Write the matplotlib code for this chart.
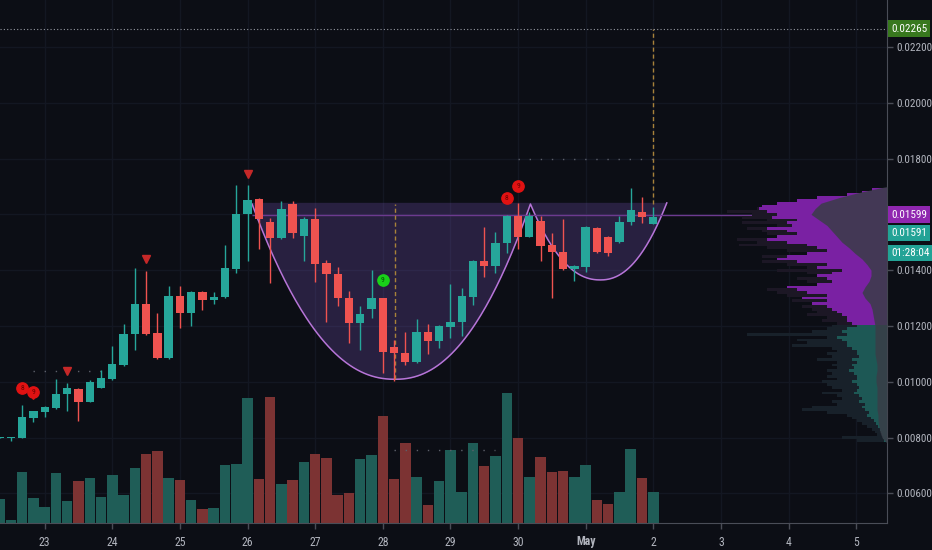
import numpy as np
import pandas as pd
import matplotlib
matplotlib.use("Agg")
import matplotlib.pyplot as plt
from matplotlib import transforms

plt.rcParams['font.family'] = ['DejaVu Sans Condensed', 'Liberation Sans Narrow',
                               'Roboto Condensed', 'Liberation Sans', 'DejaVu Sans']

# ---- data: 4h candles, first candle 22 Apr 08:00 ----
start = "2019-04-22 08:00"
opens = [0.00799, 0.00799, 0.00799, 0.00870, 0.00892, 0.00906, 0.00956, 0.00974, 0.00928, 0.00978,
         0.01010, 0.01060, 0.01171, 0.01279, 0.01175, 0.01085, 0.01308, 0.01247, 0.01322, 0.01293,
         0.01304, 0.01404, 0.01601, 0.01655, 0.01573, 0.01515, 0.01637, 0.01523, 0.01584, 0.01426,
         0.01386, 0.01300, 0.01211, 0.01261, 0.01300, 0.01125, 0.01103, 0.01071, 0.01179, 0.01146,
         0.01196, 0.01214, 0.01304, 0.01433, 0.01415, 0.01498, 0.01594, 0.01519, 0.01576, 0.01490,
         0.01465, 0.01404, 0.01412, 0.01551, 0.01519, 0.01501, 0.01573, 0.01609, 0.01566]
highs = [0.00801, 0.00801, 0.00917, 0.00897, 0.00912, 0.01010, 0.00996, 0.00976, 0.01007, 0.01042,
         0.01128, 0.01207, 0.01408, 0.01397, 0.01247, 0.01343, 0.01343, 0.01324, 0.01324, 0.01322,
         0.01490, 0.01705, 0.01705, 0.01657, 0.01587, 0.01648, 0.01648, 0.01591, 0.01623, 0.01437,
         0.01412, 0.01326, 0.01272, 0.01401, 0.01302, 0.01150, 0.01179, 0.01225, 0.01207, 0.01202,
         0.01351, 0.01336, 0.01435, 0.01555, 0.01537, 0.01596, 0.01641, 0.01609, 0.01594, 0.01533,
         0.01584, 0.01417, 0.01557, 0.01553, 0.01521, 0.01594, 0.01695, 0.01662, 0.01627]
lows = [0.00797, 0.00788, 0.00797, 0.00856, 0.00874, 0.00904, 0.00895, 0.00860, 0.00926, 0.00976,
        0.01008, 0.01058, 0.01114, 0.01169, 0.01082, 0.01083, 0.01193, 0.01200, 0.01257, 0.01279,
        0.01302, 0.01390, 0.01433, 0.01476, 0.01354, 0.01513, 0.01515, 0.01433, 0.01358, 0.01214,
        0.01272, 0.01139, 0.01114, 0.01229, 0.01032, 0.01003, 0.01060, 0.01069, 0.01100, 0.01121,
        0.01157, 0.01164, 0.01275, 0.01376, 0.01390, 0.01462, 0.01476, 0.01517, 0.01433, 0.01300,
        0.01402, 0.01361, 0.01394, 0.01462, 0.01451, 0.01499, 0.01562, 0.01569, 0.01564]
closes = [0.00800, 0.00800, 0.00874, 0.00895, 0.00910, 0.00956, 0.00978, 0.00928, 0.00999, 0.01014,
          0.01064, 0.01171, 0.01279, 0.01171, 0.01085, 0.01308, 0.01247, 0.01322, 0.01293, 0.01304,
          0.01408, 0.01601, 0.01652, 0.01584, 0.01515, 0.01619, 0.01533, 0.01584, 0.01422, 0.01386,
          0.01300, 0.01211, 0.01243, 0.01300, 0.01107, 0.01103, 0.01071, 0.01179, 0.01146, 0.01200,
          0.01214, 0.01308, 0.01433, 0.01415, 0.01498, 0.01594, 0.01519, 0.01594, 0.01487, 0.01465,
          0.01404, 0.01415, 0.01555, 0.01465, 0.01462, 0.01573, 0.01616, 0.01591, 0.01591]
volumes = [24, 3, 51, 25, 16, 50, 22, 42, 45, 26, 48, 28, 55, 69, 72, 45, 43, 23, 14, 15,
           58, 59, 125, 44, 126, 39, 43, 61, 69, 65, 28, 30, 64, 68, 107, 44, 80, 46, 18, 42,
           73, 31, 80, 57, 67, 130, 85, 46, 66, 51, 52, 46, 58, 23, 19, 31, 74, 45, 31]

# cup & handle drawing anchors (candle index, price)
cup_left = (22.4, 0.01637)
cup_low = (35.1, 0.01009)
cup_peak = (47.1, 0.01637)
handle_low = (53.3, 0.01365)
handle_right = (59.2, 0.01641)
target = cup_left[1] + (cup_left[1] - cup_low[1])
poc_price = 0.01599
last_price = closes[-1]
countdown = "01:28:04"

# TD sequential marks
td_red = [(2, 0.00978, "8"), (3, 0.00963, "9"), (45, 0.01659, "8"), (46, 0.01702, "9")]
td_green = [(34, 0.01365, "9")]
td_tri = [(6, 0.01039), (13, 0.01440), (22, 0.01745)]
td_lines = [(3, 9, 0.01039), (46, 58, 0.01800)]
vol_dots = (35, 44, 73)

# visible range volume profile, rows of 0.0001
vp_price = np.round(np.arange(0.0079, 0.01695, 0.0001), 4)
vp_total = [30, 45, 10, 12, 15, 20, 25, 30, 35, 40, 60, 85, 75, 50, 55, 45, 50, 65, 45, 55,
            60, 65, 50, 60, 55, 60, 50, 55, 50, 70, 55, 60, 50, 55, 95, 80, 90, 60, 140, 75,
            60, 55, 50, 65, 60, 80, 70, 75, 85, 70, 95, 80, 100, 110, 120, 100, 65, 80, 90, 70,
            80, 110, 80, 100, 125, 105, 125, 80, 100, 120, 148, 130, 150, 110, 120, 125, 140, 110, 145, 120,
            145, 135, 160, 130, 115, 95, 75, 45, 28, 18, 6]
vp_value = [3, 4, 5, 6, 7, 9, 11, 13, 16, 20, 18, 22, 25, 22, 28, 25, 28, 33, 30, 28,
            30, 35, 30, 30, 33, 38, 33, 35, 30, 35, 28, 30, 30, 35, 40, 40, 45, 50, 40, 45,
            40, 30, 35, 40, 40, 45, 50, 55, 60, 75, 60, 85, 60, 80, 90, 100, 70, 55, 60, 70,
            55, 45, 70, 60, 90, 110, 100, 80, 60, 70, 80, 100, 120, 110, 90, 100, 120, 95, 100, 90,
            115, 110, 120, 128, 125, 110, 90, 70, 40, 25, 15]
vp_env_price = np.round(np.arange(0.0078, 0.01705, 0.0002), 4)
vp_env = [0, 5, 7, 8, 9, 9, 10, 10, 10, 10, 10, 11, 11, 10, 10, 11, 12, 12, 12, 12,
          12, 12, 13, 14, 15, 17, 22, 25, 22, 18, 16, 16, 20, 25, 32, 38, 45, 50, 55, 60,
          68, 76, 72, 66, 48, 26, 0]
value_area_low = 0.0121

# ---- style ----
BG = '#0c0e15'
TXT = '#b2b5be'
UP, DN = '#26a69a', '#ef5350'
VUP, VDN = '#1f5d57', '#7c3333'
GRID = '#131722'
BORDER = '#4a4d57'
FS = 8

n = len(opens)
idx = np.arange(n)
o, h, l, c = map(np.array, (opens, highs, lows, closes))
up = c >= o
times = pd.date_range(start, periods=80, freq="4h")

fig = plt.figure(figsize=(9.32, 5.5), dpi=100, facecolor=BG)
ax = fig.add_axes([0, 27 / 550, 887 / 932, 523 / 550], facecolor=BG)
ax.set_xlim(0.035, 78.74)
ax.set_ylim(0.00494, 0.02368)
ax.set_axisbelow(True)

# volume in the bottom quarter of the pane
vol_top = max(volumes) / 0.2486
vtr = transforms.blended_transform_factory(ax.transData, ax.transAxes)
ax.bar(idx, np.array(volumes) / vol_top, width=0.93, bottom=0,
       color=np.where(up, VUP, VDN), edgecolor='none', transform=vtr, zorder=1)
ax.plot([vol_dots[0], vol_dots[1]], [vol_dots[2] / vol_top] * 2, transform=vtr,
        color='#5d606b', lw=1, ls=(0, (1, 7)), zorder=1.5)

# cup & handle
def arc(a, b, m, p=2.2):
    xl = np.linspace(a[0], m[0], 80)
    yl = m[1] + (a[1] - m[1]) * ((m[0] - xl) / (m[0] - a[0])) ** p
    xr = np.linspace(m[0], b[0], 80)
    yr = m[1] + (b[1] - m[1]) * ((xr - m[0]) / (b[0] - m[0])) ** p
    return np.r_[xl, xr[1:]], np.r_[yl, yr[1:]]

x1, y1 = arc(cup_left, cup_peak, cup_low)
x2, y2 = arc(cup_peak, handle_right, handle_low)
cx, cy = np.r_[x1, x2[1:]], np.r_[y1, y2[1:]]
rim = max(cup_left[1], handle_right[1]) + 0.00002
ax.fill_between(cx, cy, rim, color='#7e57c2', alpha=0.25, lw=0, zorder=1.6)
ax.plot(cx, cy, color='#b775d8', lw=1.1, zorder=1.7)
ax.hlines(poc_price, cup_left[0], 78.74, color='#6d3a8f', lw=1, zorder=1.7)
ax.vlines(cup_low[0], cup_low[1], cup_left[1], color='#a8823a', lw=1, ls=(0, (3, 2)), zorder=1.8)
ax.vlines(idx[-1], cup_peak[1], target, color='#a8823a', lw=1, ls=(0, (3, 2)), zorder=1.8)
ax.axhline(target, color='#9598a1', lw=0.8, ls=(0, (1, 2)), zorder=1.8)

for a, b, p in td_lines:
    ax.hlines(p, a, b, color='#5d606b', lw=1, ls=(0, (1, 7)), zorder=1.8)

# candles
ax.vlines(idx, l, h, colors=np.where(up, UP, DN), lw=1, zorder=2)
ax.bar(idx, np.maximum(np.abs(c - o), 0.00004), bottom=np.minimum(o, c), width=0.74,
       color=np.where(up, UP, DN), edgecolor='none', zorder=2.1)

# markers
for i, p, t in td_red:
    ax.scatter(i, p, s=66, color='#e01212', zorder=3)
    ax.text(i, p, t, fontsize=5.5, color='#6a0000', ha='center', va='center', zorder=3.1)
for i, p, t in td_green:
    ax.scatter(i, p, s=66, color='#19d219', zorder=3)
    ax.text(i, p, t, fontsize=5.5, color='#065006', ha='center', va='center', zorder=3.1)
ax.plot([td_red[1][0]], [td_red[1][1] - 0.00013], marker='v', ms=4, color='#e01212', zorder=3)
for i, p in td_tri:
    ax.plot(i, p, marker='v', ms=6, color='#c62828', ls='none', zorder=3)

# axes, ticks, grid
yt = np.round(np.arange(0.006, 0.0221, 0.002), 3)
ax.yaxis.tick_right()
ax.set_yticks(yt)
# the 0.01600 label sits under the POC tag, as on the reference
ax.set_yticklabels(["" if abs(v - poc_price) < 0.0002 else f"{v:.5f}" for v in yt])
day_idx = [i for i, t in enumerate(times) if t.hour == 0]
ax.set_xticks(day_idx)
ax.set_xticklabels(["May" if times[i].day == 1 else str(times[i].day) for i in day_idx])
for lab in ax.get_xticklabels():
    if lab.get_text() == "May":
        lab.set_fontweight('bold')
ax.tick_params(colors=BORDER, labelcolor=TXT, labelsize=FS, length=4, width=1)
ax.tick_params(axis='y', pad=3)
ax.tick_params(axis='x', pad=5, labelsize=8.5)
ax.grid(True, color=GRID, lw=1)
for s in ('top', 'left'):
    ax.spines[s].set_visible(False)
for s in ('right', 'bottom'):
    ax.spines[s].set_color(BORDER)

# price tags on the right scale
def tag(text, price, color, dy=0):
    ax.annotate(text, xy=(1, price), xycoords=('axes fraction', 'data'),
                xytext=(4, -dy), textcoords='offset pixels', ha='left', va='center',
                fontsize=FS, color='white', annotation_clip=False, zorder=10,
                bbox=dict(boxstyle='square,pad=0.3', fc=color, ec='none'))

tag(f"{target:.5f}", target, '#38781e')
tag(f"{poc_price:.5f}", poc_price, '#9027b0')
tag(f"{last_price:.5f}", last_price, '#22a396', dy=16)
tag(countdown, last_price, '#22a396', dy=36)

# volume profile
axp = fig.add_axes([700 / 932, 27 / 550, 187 / 932, 523 / 550], sharey=ax)
axp.set_xlim(187, 0)
axp.set_ylim(0.00494, 0.02368)
axp.axis('off')
axp.patch.set_visible(False)
va = vp_price >= value_area_low
axp.barh(vp_price, vp_total, height=0.0001, color=np.where(va, '#1c1725', '#18212a'), lw=0)
axp.barh(vp_price, vp_value, height=0.0001, color=np.where(va, '#7a21a3', '#1d5855'), lw=0)
axp.fill_betweenx(vp_env_price, 0, vp_env, color='#3a3d48', alpha=0.85, lw=0)

fig.savefig("out.png", dpi=100, facecolor=BG)
